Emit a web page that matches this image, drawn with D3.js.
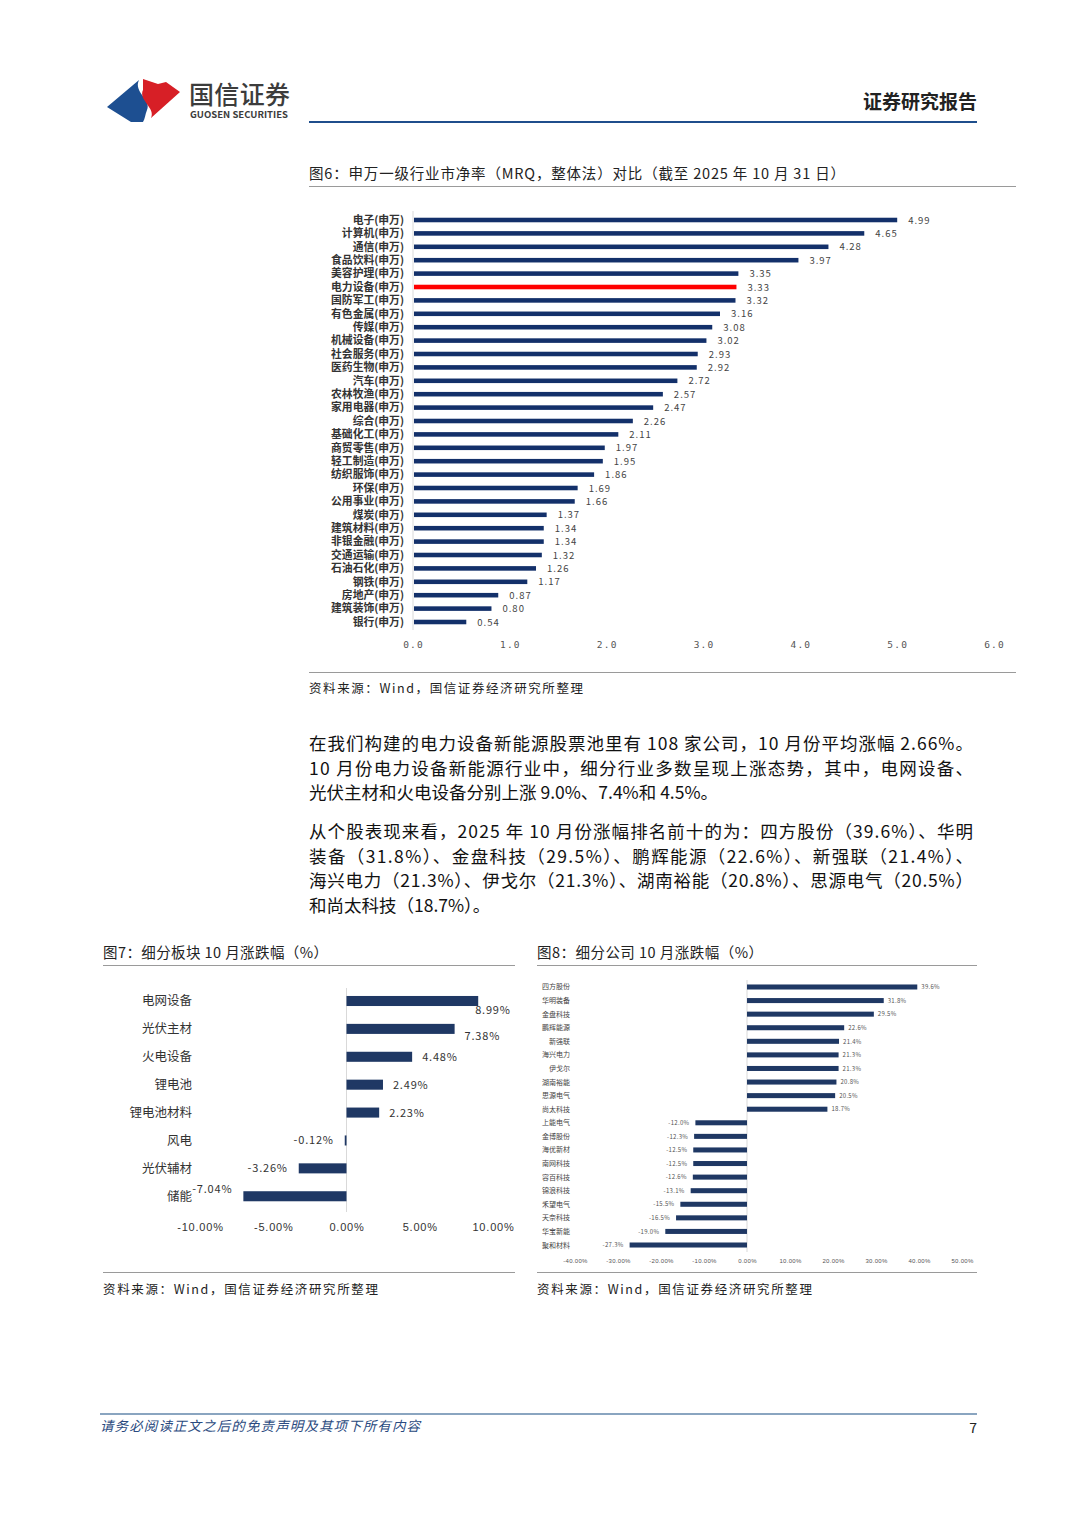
<!DOCTYPE html>
<html><head><meta charset="utf-8">
<script src="https://cdn.jsdelivr.net/npm/d3@7"></script>
<style>
html,body{margin:0;padding:0;background:#fff;}
svg{display:block;font-family:"Noto Sans CJK SC","Noto Sans",sans-serif;}
</style></head>
<body>
<svg id="page" width="1080" height="1527"></svg>
<script>
// ---------- DATA ----------
const fig6Categories = ['电子(申万)','计算机(申万)','通信(申万)','食品饮料(申万)','美容护理(申万)','电力设备(申万)','国防军工(申万)','有色金属(申万)','传媒(申万)','机械设备(申万)','社会服务(申万)','医药生物(申万)','汽车(申万)','农林牧渔(申万)','家用电器(申万)','综合(申万)','基础化工(申万)','商贸零售(申万)','轻工制造(申万)','纺织服饰(申万)','环保(申万)','公用事业(申万)','煤炭(申万)','建筑材料(申万)','非银金融(申万)','交通运输(申万)','石油石化(申万)','钢铁(申万)','房地产(申万)','建筑装饰(申万)','银行(申万)'];
const fig6Values = [4.99,4.65,4.28,3.97,3.35,3.33,3.32,3.16,3.08,3.02,2.93,2.92,2.72,2.57,2.47,2.26,2.11,1.97,1.95,1.86,1.69,1.66,1.37,1.34,1.34,1.32,1.26,1.17,0.87,0.80,0.54];
const fig6Highlight = '电力设备(申万)';
const fig6Ticks = [0,1,2,3,4,5,6];

const fig7Categories = ['电网设备','光伏主材','火电设备','锂电池','锂电池材料','风电','光伏辅材','储能'];
const fig7Values = [8.99,7.38,4.48,2.49,2.23,-0.12,-3.26,-7.04];
const fig7Ticks = [-10,-5,0,5,10];

const fig8Categories = ['四方股份','华明装备','金盘科技','鹏辉能源','新强联','海兴电力','伊戈尔','湖南裕能','思源电气','尚太科技','上能电气','金博股份','海优新材','南网科技','容百科技','锦浪科技','禾望电气','天奈科技','华宝新能','聚和材料'];
const fig8Values = [39.6,31.8,29.5,22.6,21.4,21.3,21.3,20.8,20.5,18.7,-12.0,-12.3,-12.5,-12.5,-12.6,-13.1,-15.5,-16.5,-19.0,-27.3];
const fig8Ticks = [-40,-30,-20,-10,0,10,20,30,40,50];

const para1 = ['在我们构建的电力设备新能源股票池里有 108 家公司，10 月份平均涨幅 2.66%。',
  '10 月份电力设备新能源行业中，细分行业多数呈现上涨态势，其中，电网设备、',
  '光伏主材和火电设备分别上涨 9.0%、7.4%和 4.5%。'];
const para2 = ['从个股表现来看，2025 年 10 月份涨幅排名前十的为：四方股份（39.6%）、华明',
  '装备（31.8%）、金盘科技（29.5%）、鹏辉能源（22.6%）、新强联（21.4%）、',
  '海兴电力（21.3%）、伊戈尔（21.3%）、湖南裕能（20.8%）、思源电气（20.5%）',
  '和尚太科技（18.7%）。'];

// ---------- PAGE ----------
const svg = d3.select('#page');
const NAVY = '#13306a';

// header logo
svg.append('path').attr('d','M107,107 L139,80 C133,92 152,100 147,110 C145,115 145,119 143,122 L131,122 Z').attr('fill','#1d4f91');
svg.append('path').attr('d','M143,79 L158,84 L166,82 L180,92 L151,118 C156,108 138,100 143,90 Z').attr('fill','#d71f26');
svg.append('text').attr('x',189).attr('y',104).attr('font-size',25).attr('font-weight',500).attr('fill','#3c3c3c').attr('textLength',101).text('国信证券');
svg.append('text').attr('x',190).attr('y',118).attr('font-size',9).attr('font-weight',700).attr('fill','#3c3c3c').attr('textLength',98).attr('lengthAdjust','spacingAndGlyphs').text('GUOSEN SECURITIES');
svg.append('text').attr('x',977).attr('y',109).attr('text-anchor','end').attr('font-size',19).attr('font-weight',700).attr('fill','#222').text('证券研究报告');
svg.append('rect').attr('x',309).attr('y',121).attr('width',668).attr('height',2).attr('fill','#1f4e8c');

// figure 6 title
svg.append('text').attr('x',309).attr('y',179).attr('font-size',14.5).attr('fill','#222').attr('textLength',536).attr('lengthAdjust','spacing').text('图6：申万一级行业市净率（MRQ，整体法）对比（截至 2025 年 10 月 31 日）');
svg.append('rect').attr('x',309).attr('y',186).attr('width',707).attr('height',1).attr('fill','#9a9a9a');

// ---------- FIGURE 6 ----------
{
  const x = d3.scaleLinear().domain([0,6]).range([413,994]);
  const y = d3.scaleBand().domain(fig6Categories).range([213.3,628.7]).paddingInner(0.66).paddingOuter(0.33);
  const g = svg.append('g');
  g.append('line').attr('x1',413).attr('x2',413).attr('y1',211).attr('y2',630).attr('stroke','#d9d9d9');
  g.selectAll('rect.b').data(fig6Values).join('rect').attr('class','b')
    .attr('x',x(0)+1).attr('y',(d,i)=>y(fig6Categories[i]))
    .attr('width',d=>x(d)-x(0)).attr('height',y.bandwidth())
    .attr('fill',(d,i)=>fig6Categories[i]===fig6Highlight?'#ff0000':NAVY);
  g.selectAll('text.v').data(fig6Values).join('text').attr('class','v')
    .attr('x',d=>x(d)+12).attr('y',(d,i)=>y(fig6Categories[i])+y.bandwidth()/2+3.5)
    .attr('font-size',9.5).attr('fill','#444').attr('letter-spacing',1).text(d=>d.toFixed(2));
  g.selectAll('text.c').data(fig6Categories).join('text').attr('class','c')
    .attr('x',404).attr('y',d=>y(d)+y.bandwidth()/2+3.8).attr('text-anchor','end')
    .attr('font-size',10.8).attr('font-weight',700).attr('fill','#333').text(d=>d);
  const ax = g.append('g').attr('transform','translate(0,638)')
    .call(d3.axisBottom(x).tickValues(fig6Ticks).tickSize(0).tickFormat(d=>d.toFixed(1)));
  ax.select('.domain').remove();
  ax.selectAll('text').attr('font-size',9.5).attr('fill','#555').attr('letter-spacing',1.2).attr('font-family','"DejaVu Sans Mono",monospace');
}
svg.append('rect').attr('x',309).attr('y',672).attr('width',707).attr('height',1).attr('fill','#9a9a9a');
svg.append('text').attr('x',309).attr('y',693).attr('font-size',12.5).attr('fill','#222').attr('textLength',274).attr('lengthAdjust','spacing').text('资料来源：Wind，国信证券经济研究所整理');

// ---------- PARAGRAPHS ----------
function para(lines, y0){
  lines.forEach((t,i)=>{
    const el = svg.append('text').attr('x',309).attr('y',y0+i*24.6).attr('font-size',17.5).attr('fill','#111').text(t);
    if(i<lines.length-1) el.attr('textLength',664).attr('lengthAdjust','spacing');
  });
}
para(para1, 750);
para(para2, 838);

// figure 7/8 titles
svg.append('text').attr('x',103).attr('y',958).attr('font-size',14.5).attr('fill','#222').attr('textLength',225).attr('lengthAdjust','spacing').text('图7：细分板块 10 月涨跌幅（%）');
svg.append('rect').attr('x',103).attr('y',965).attr('width',412).attr('height',1).attr('fill','#9a9a9a');
svg.append('text').attr('x',537).attr('y',958).attr('font-size',14.5).attr('fill','#222').attr('textLength',226).attr('lengthAdjust','spacing').text('图8：细分公司 10 月涨跌幅（%）');
svg.append('rect').attr('x',537).attr('y',965).attr('width',440).attr('height',1).attr('fill','#9a9a9a');

// ---------- FIGURE 7 ----------
{
  const x = d3.scaleLinear().domain([-10,10]).range([200,493]);
  const y = d3.scaleBand().domain(fig7Categories).range([987.05,1210.2]).paddingInner(0.64).paddingOuter(0.32);
  const g = svg.append('g');
  g.append('line').attr('x1',x(0)).attr('x2',x(0)).attr('y1',988).attr('y2',1212).attr('stroke','#d9d9d9');
  g.selectAll('rect').data(fig7Values).join('rect')
    .attr('x',d=>Math.min(x(0),x(d))).attr('y',(d,i)=>y(fig7Categories[i]))
    .attr('width',d=>Math.max(1,Math.abs(x(d)-x(0)))).attr('height',y.bandwidth()).attr('fill','#1f3864');
  g.selectAll('text.v').data(fig7Values).join('text').attr('class','v')
    .attr('x',d=> d>=0 ? (d>8 ? x(d)-3 : x(d)+10) : x(d)-11)
    .attr('y',(d,i)=>y(fig7Categories[i])+y.bandwidth()/2+4 + (d>8?9:(d>7?7:(d<-6?-7:0))))
    .attr('text-anchor',d=>d>=0?'start':'end')
    .attr('font-size',11).attr('fill','#333').attr('letter-spacing',0.8).text(d=>d.toFixed(2)+'%');
  g.selectAll('text.c').data(fig7Categories).join('text').attr('class','c')
    .attr('x',192).attr('y',d=>y(d)+y.bandwidth()/2+4.5).attr('text-anchor','end')
    .attr('font-size',12.5).attr('fill','#333').text(d=>d);
  const ax = g.append('g').attr('transform','translate(0,1220)')
    .call(d3.axisBottom(x).tickValues(fig7Ticks).tickSize(0).tickFormat(d=>d.toFixed(2)+'%'));
  ax.select('.domain').remove();
  ax.selectAll('text').attr('font-size',11).attr('fill','#333').attr('letter-spacing',0.8);
}

// ---------- FIGURE 8 ----------
{
  const x = d3.scaleLinear().domain([-40,50]).range([575,962]);
  const y = d3.scaleBand().domain(fig8Categories).range([980.2,1251.8]).paddingInner(0.63).paddingOuter(0.315);
  const g = svg.append('g');
  g.append('line').attr('x1',x(0)).attr('x2',x(0)).attr('y1',980).attr('y2',1252).attr('stroke','#d9d9d9');
  g.selectAll('rect').data(fig8Values).join('rect')
    .attr('x',d=>Math.min(x(0),x(d))).attr('y',(d,i)=>y(fig8Categories[i]))
    .attr('width',d=>Math.abs(x(d)-x(0))).attr('height',y.bandwidth()).attr('fill','#1f3864');
  g.selectAll('text.v').data(fig8Values).join('text').attr('class','v')
    .attr('x',d=> d>=0 ? x(d)+4 : x(d)-6)
    .attr('y',(d,i)=>y(fig8Categories[i])+y.bandwidth()/2+2.2)
    .attr('text-anchor',d=>d>=0?'start':'end')
    .attr('font-size',6).attr('fill','#555').attr('letter-spacing',0.3).text(d=>d.toFixed(1)+'%');
  g.selectAll('text.c').data(fig8Categories).join('text').attr('class','c')
    .attr('x',570).attr('y',d=>y(d)+y.bandwidth()/2+2.5).attr('text-anchor','end')
    .attr('font-size',7).attr('fill','#444').text(d=>d);
  const ax = g.append('g').attr('transform','translate(0,1256)')
    .call(d3.axisBottom(x).tickValues(fig8Ticks).tickSize(0).tickFormat(d=>d.toFixed(2)+'%'));
  ax.select('.domain').remove();
  ax.selectAll('text').attr('font-size',6).attr('fill','#555').attr('letter-spacing',0.3);
}

svg.append('rect').attr('x',103).attr('y',1272).attr('width',412).attr('height',1).attr('fill','#9a9a9a');
svg.append('rect').attr('x',537).attr('y',1272).attr('width',440).attr('height',1).attr('fill','#9a9a9a');
svg.append('text').attr('x',103).attr('y',1294).attr('font-size',12.5).attr('fill','#222').attr('textLength',275).attr('lengthAdjust','spacing').text('资料来源：Wind，国信证券经济研究所整理');
svg.append('text').attr('x',537).attr('y',1294).attr('font-size',12.5).attr('fill','#222').attr('textLength',275).attr('lengthAdjust','spacing').text('资料来源：Wind，国信证券经济研究所整理');

// ---------- FOOTER ----------
svg.append('rect').attr('x',100).attr('y',1413).attr('width',877).attr('height',2).attr('fill','#8aa5c0');
svg.append('text').attr('x',100).attr('y',1431).attr('font-size',13.5).attr('font-style','italic').attr('fill','#2a4a80').attr('textLength',320).attr('lengthAdjust','spacing').text('请务必阅读正文之后的免责声明及其项下所有内容');
svg.append('text').attr('x',977).attr('y',1433).attr('text-anchor','end').attr('font-size',14).attr('fill','#222').text('7');
</script>
</body></html>
